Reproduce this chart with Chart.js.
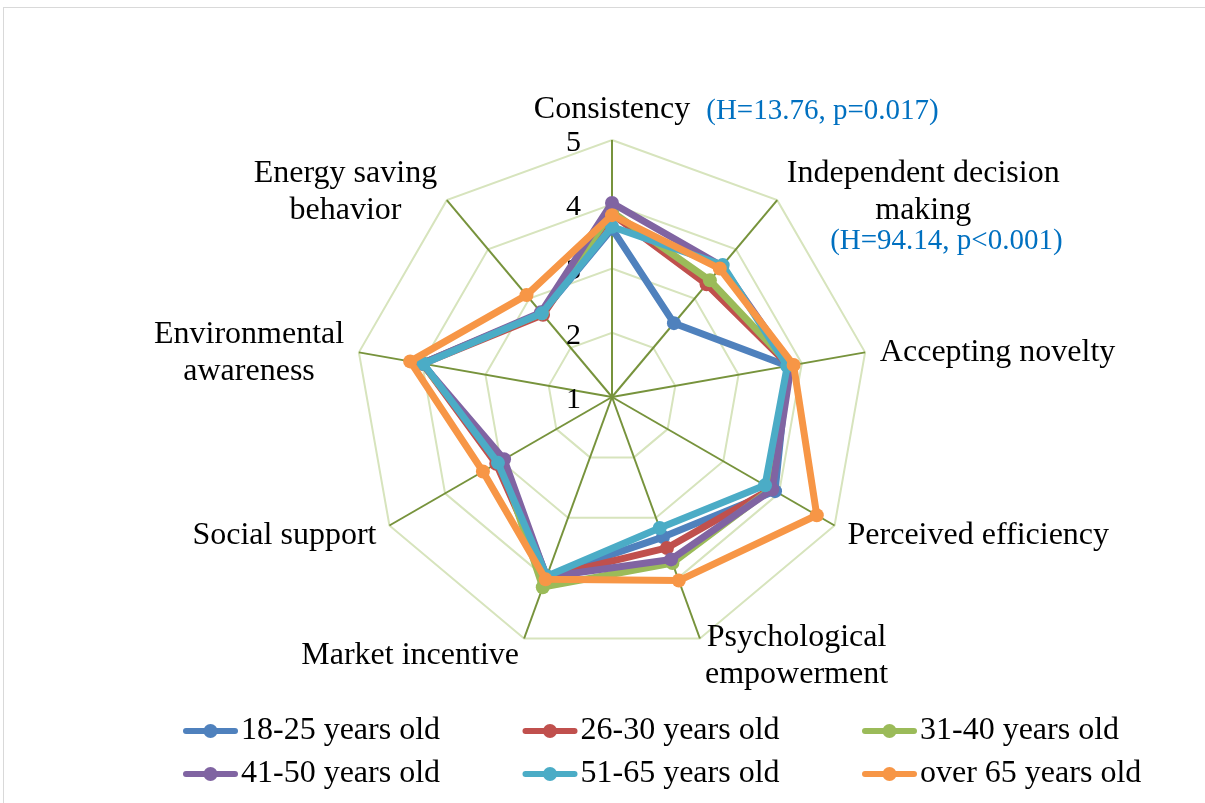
<!DOCTYPE html>
<html>
<head>
<meta charset="utf-8">
<script src="https://cdn.jsdelivr.net/npm/chart.js@4.4.1/dist/chart.umd.min.js"></script>
<style>
  html, body { margin: 0; padding: 0; background: #fff; }
</style>
</head>
<body>
<canvas id="chart" width="1205" height="803"></canvas>
<script>
// axis labels (multi-line where the original wraps)
const categories = [
    ['Consistency'],
    ['Independent decision', 'making'],
    ['Accepting novelty'],
    ['Perceived efficiency'],
    ['Psychological', 'empowerment'],
    ['Market incentive'],
    ['Social support'],
    ['Environmental', 'awareness'],
    ['Energy saving', 'behavior'],
];
const seriesNames = ['18-25 years old', '26-30 years old', '31-40 years old',
    '41-50 years old', '51-65 years old', 'over 65 years old'];

const age18to25 = [3.62, 2.50, 3.78, 3.93, 3.32, 3.97, 3.00, 4.00, 2.70];
const age26to30 = [3.85, 3.29, 3.80, 3.86, 3.50, 3.98, 3.08, 3.99, 2.67];
const age31to40 = [3.88, 3.37, 3.82, 3.86, 3.75, 4.15, 3.00, 4.00, 2.70];
const age41to50 = [4.02, 3.66, 3.83, 3.88, 3.69, 3.98, 2.94, 4.00, 2.72];
const age51to65 = [3.65, 3.68, 3.77, 3.75, 3.17, 3.97, 3.05, 3.98, 2.70];
const over65    = [3.83, 3.61, 3.87, 4.68, 4.04, 4.02, 3.32, 4.19, 3.07];

const tickValues = [1, 2, 3, 4, 5];
const notes = ['(H=13.76, p=0.017)', '(H=94.14, p<0.001)'];

const seriesData = [age18to25, age26to30, age31to40, age41to50, age51to65, over65];
const colors = ['#4F81BD', '#C0504D', '#9BBB59', '#8064A2', '#4BACC6', '#F79646'];

const SERIF = '"Liberation Serif", "Times New Roman", serif';

const decor = {
    id: 'decor',
    beforeDatasetsDraw(chart) {
        const ctx = chart.ctx;
        const r = chart.scales.r;
        ctx.save();
        ctx.font = '30px ' + SERIF;
        ctx.fillStyle = '#000';
        ctx.textAlign = 'right';
        ctx.textBaseline = 'middle';
        tickValues.forEach(function (v) {
            const d = r.getDistanceFromCenterForValue(v);
            ctx.fillText(String(v), r.xCenter - 31, r.yCenter - d + 3);
        });
        ctx.restore();
    },
    afterDraw(chart) {
        const ctx = chart.ctx;
        const r = chart.scales.r;
        const lineH = 37;
        const boxes = [];
        ctx.save();

        // point labels
        ctx.font = '32px ' + SERIF;
        ctx.fillStyle = '#000';
        ctx.textAlign = 'center';
        ctx.textBaseline = 'middle';
        categories.forEach(function (lines, i) {
            const p = r.getPointPosition(i, r.drawingArea + 15);
            const w = Math.max.apply(null, lines.map(function (t) { return ctx.measureText(t).width; }));
            const h = lines.length * lineH;
            const dx = p.x - r.xCenter;
            let cx = p.x;
            let top = p.y - h / 2 + 3;
            if (Math.abs(dx) < 1) {
                top = p.y - h + 3;
            } else if (dx > 0) {
                cx = p.x + w / 2;
            } else {
                cx = p.x - w / 2;
            }
            lines.forEach(function (t, k) {
                ctx.fillText(t, cx, top + lineH * (k + 0.5));
            });
            boxes[i] = { left: cx - w / 2, right: cx + w / 2, top: top, bottom: top + h };
        });

        // test statistics
        ctx.font = '29px ' + SERIF;
        ctx.fillStyle = '#0070C0';
        ctx.textAlign = 'left';
        ctx.fillText(notes[0], boxes[0].right + 16, (boxes[0].top + boxes[0].bottom) / 2 + 2);
        ctx.textAlign = 'right';
        ctx.fillText(notes[1], boxes[1].right + 3, boxes[1].bottom + 13);

        // legend
        ctx.font = '32px ' + SERIF;
        ctx.textAlign = 'left';
        seriesNames.forEach(function (name, k) {
            const x = 183 + (k % 3) * 339.5;
            const y = 731 + Math.floor(k / 3) * 43;
            ctx.strokeStyle = colors[k];
            ctx.lineWidth = 6;
            ctx.lineCap = 'round';
            ctx.beginPath();
            ctx.moveTo(x + 3, y);
            ctx.lineTo(x + 52, y);
            ctx.stroke();
            ctx.fillStyle = colors[k];
            ctx.beginPath();
            ctx.arc(x + 27.5, y, 7, 0, Math.PI * 2);
            ctx.fill();
            ctx.fillStyle = '#000';
            ctx.fillText(name, x + 58, y);
        });

        // chart frame
        ctx.strokeStyle = '#D9D9D9';
        ctx.lineWidth = 1;
        ctx.strokeRect(3.5, 7.5, 1220, 820);
        ctx.restore();
    }
};

new Chart(document.getElementById('chart'), {
    type: 'radar',
    data: {
        labels: categories,
        datasets: seriesData.map(function (values, k) {
            return {
                label: seriesNames[k],
                data: values,
                borderColor: colors[k],
                backgroundColor: colors[k],
                borderWidth: 7,
                borderJoinStyle: 'round',
                pointRadius: 7,
                pointHoverRadius: 7,
                pointBorderWidth: 0,
                pointBackgroundColor: colors[k],
                pointBorderColor: colors[k],
                fill: false,
                order: seriesData.length - 1 - k,
            };
        }),
    },
    options: {
        responsive: false,
        animation: false,
        devicePixelRatio: 1,
        layout: {
            padding: { left: 355, right: 336, top: 140, bottom: 149 },
        },
        elements: {
            line: { tension: 0 },
        },
        plugins: {
            legend: { display: false },
            tooltip: { enabled: false },
        },
        scales: {
            r: {
                min: 1,
                max: 5,
                ticks: { stepSize: 1, display: false },
                pointLabels: { display: false },
                grid: { color: '#D7E4BD', lineWidth: 2 },
                angleLines: { color: '#77933C', lineWidth: 2 },
            },
        },
    },
    plugins: [decor],
});
</script>
</body>
</html>
